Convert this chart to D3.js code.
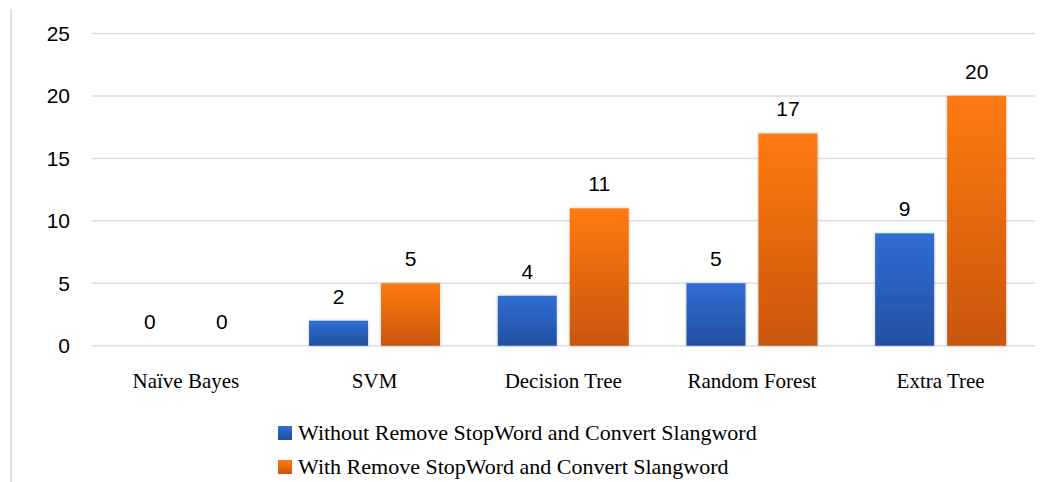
<!DOCTYPE html>
<meta charset="utf-8">
<script src="https://d3js.org/d3.v7.min.js"></script>
<style>
  body { margin: 0; background: #fff; }
  .tick text { font-family: "Liberation Sans", Arial, sans-serif; }
</style>
<div id="chart"></div>
<script>
// data
var categories = ["Naïve Bayes", "SVM", "Decision Tree", "Random Forest", "Extra Tree"];
var seriesNames = ["Without Remove StopWord and Convert Slangword",
                   "With Remove StopWord and Convert Slangword"];
var withoutValues = [0, 2, 4, 5, 9];
var withValues = [0, 5, 11, 17, 20];
var yTicks = [0, 5, 10, 15, 20, 25];

var W = 1041, H = 482;
var plotLeft = 91.5, plotRight = 1035, plotTop = 33.6, plotBottom = 345.7;

var svg = d3.select("#chart").append("svg")
  .attr("width", W).attr("height", H);

// gradients + soft shadow
var defs = svg.append("defs");
var grads = [["gBlue", "#2f6dd6", "#2350a0"], ["gOrange", "#ff7a12", "#c9560c"]];
grads.forEach(function(g) {
  var lg = defs.append("linearGradient").attr("id", g[0])
    .attr("x1", 0).attr("y1", 0).attr("x2", 0).attr("y2", 1);
  lg.append("stop").attr("offset", "0%").attr("stop-color", g[1]);
  lg.append("stop").attr("offset", "100%").attr("stop-color", g[2]);
});
var f = defs.append("filter").attr("id", "shadow")
  .attr("x", "-20%").attr("y", "-20%").attr("width", "140%").attr("height", "140%");
f.append("feDropShadow").attr("dx", 0).attr("dy", 0).attr("stdDeviation", 1.5)
  .attr("flood-color", "#000").attr("flood-opacity", 0.25);

// chart border line on left
svg.append("line").attr("x1", 11).attr("x2", 11).attr("y1", 9).attr("y2", H)
  .attr("stroke", "#dde1e8").attr("stroke-width", 2);

var x0 = d3.scaleBand().domain(categories).range([plotLeft, plotRight]).padding(0);
var x1 = d3.scaleBand().domain([0, 1]).range([0, x0.bandwidth()])
  .paddingInner(0.1806).paddingOuter(0.4007);
var y = d3.scaleLinear().domain([0, 25]).range([plotBottom, plotTop]);

// gridlines
svg.append("g").selectAll("line").data(yTicks).enter().append("line")
  .attr("x1", plotLeft).attr("x2", plotRight)
  .attr("y1", function(d) { return y(d); }).attr("y2", function(d) { return y(d); })
  .attr("stroke", "#dadde3").attr("stroke-width", 1.5);

// y axis labels
var yAxis = svg.append("g")
  .attr("transform", "translate(70,0)")
  .call(d3.axisLeft(y).tickValues(yTicks).tickSize(0).tickPadding(0));
yAxis.select(".domain").remove();
yAxis.selectAll("text").attr("font-size", 21).attr("fill", "#000");

// bars
var rows = categories.map(function(c, i) { return {cat: c, vals: [withoutValues[i], withValues[i]]}; });
var fills = ["url(#gBlue)", "url(#gOrange)"];

var groups = svg.append("g").selectAll("g").data(rows).enter().append("g")
  .attr("transform", function(d) { return "translate(" + x0(d.cat) + ",0)"; });

groups.selectAll("rect")
  .data(function(d) { return d.vals.map(function(v, k) { return {k: k, v: v}; }); })
  .enter().append("rect")
    .filter(function(d) { return d.v > 0; })
    .attr("x", function(d) { return x1(d.k); })
    .attr("y", function(d) { return y(d.v); })
    .attr("width", x1.bandwidth())
    .attr("height", function(d) { return y(0) - y(d.v); })
    .attr("fill", function(d) { return fills[d.k]; })
    .attr("filter", "url(#shadow)");

groups.selectAll("text.val")
  .data(function(d) { return d.vals.map(function(v, k) { return {k: k, v: v}; }); })
  .enter().append("text")
    .attr("class", "val")
    .attr("x", function(d) { return x1(d.k) + x1.bandwidth() / 2; })
    .attr("y", function(d) { return y(d.v) - 17; })
    .attr("text-anchor", "middle")
    .attr("font-family", "Liberation Sans, Arial, sans-serif")
    .attr("font-size", 21)
    .text(function(d) { return d.v; });

// category labels
svg.append("g").selectAll("text").data(categories).enter().append("text")
  .attr("x", function(d) { return x0(d) + x0.bandwidth() / 2; })
  .attr("y", 388)
  .attr("text-anchor", "middle")
  .attr("font-family", "Liberation Serif, Times New Roman, serif")
  .attr("font-size", 21)
  .text(function(d) { return d; });

// legend
var legend = svg.append("g").selectAll("g").data(seriesNames).enter().append("g")
  .attr("transform", function(d, i) { return "translate(278," + (433 + i * 34) + ")"; });
legend.append("rect")
  .attr("x", 0).attr("y", -7).attr("width", 14).attr("height", 14)
  .attr("fill", function(d, i) { return fills[i]; });
legend.append("text")
  .attr("x", 20).attr("y", 7)
  .attr("font-family", "Liberation Serif, Times New Roman, serif")
  .attr("font-size", 22)
  .text(function(d) { return d; });
</script>
